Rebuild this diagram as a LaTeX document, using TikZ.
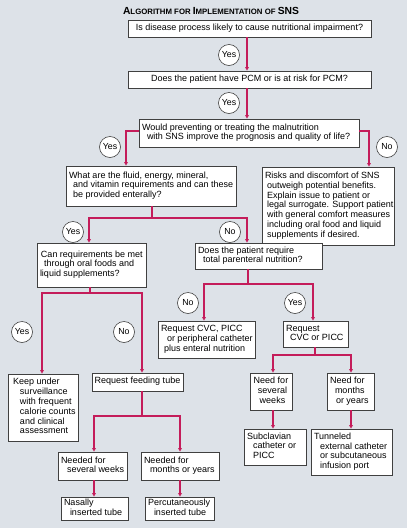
\documentclass[tikz,border=0pt]{standalone}
\usepackage{fontspec}
\setmainfont{Liberation Sans}
\usetikzlibrary{arrows.meta,shadows}
\definecolor{bg}{HTML}{DDE2E8}
\definecolor{crim}{HTML}{C41C5A}
\definecolor{edge}{HTML}{404040}
% \mkbox[options]{l or c}{name}{x1}{y1}{x2}{y2}{lines}
\newcommand\mkbox[8][]{%
 \pgfmathsetmacro\bxw{#6-#4}\pgfmathsetmacro\bxh{#7-#5}%
 \pgfmathsetmacro\bxtw{#6-#4-6}%
 \pgfmathsetmacro\bxcx{(#4+#6)/2}\pgfmathsetmacro\bxcy{(#5+#7)/2}%
 \node[box, minimum width=\bxw pt, minimum height=\bxh pt, #1] (#3) at (\bxcx,\bxcy)
   {\makebox[\bxtw pt][#2]{\begin{tabular}{@{}#2@{}}#8\end{tabular}}};}
\begin{document}
\begin{tikzpicture}[x=1pt,y=-1pt,
  box/.style={draw=edge, fill=white, line width=0.7pt, inner xsep=3pt, inner ysep=0pt,
    font=\fontsize{9}{9.8}\selectfont,
    drop shadow={shadow xshift=1.2pt, shadow yshift=-1.2pt, fill=black!30}},
  circ/.style={circle, draw=edge, fill=white, line width=0.6pt, inner sep=0pt,
    minimum size=21pt, font=\fontsize{8.8}{9}\selectfont},
  ln/.style={draw=crim, line width=1.1pt},
  arr/.style={ln, -{Triangle[length=3.6pt,width=3.6pt]}}]
\fill[bg] (0,0) rectangle (407,528);
\useasboundingbox (0,0) rectangle (407,528);

\node[font=\bfseries] (title) at (211,10.5) {\fontsize{10.3}{11}\selectfont A\fontsize{7.8}{9}\selectfont LGORITHM FOR \fontsize{10.3}{11}\selectfont I\fontsize{7.8}{9}\selectfont MPLEMENTATION OF \fontsize{10.3}{11}\selectfont SNS};

\mkbox{c}{b1}{128}{20}{371}{37}{Is disease process likely to cause nutritional impairment?}
\mkbox{c}{b2}{128}{71}{371}{88}{Does the patient have PCM or is at risk for PCM?}
\mkbox{l}{b3}{139}{119}{359}{147}{Would preventing or treating the malnutrition\\\hspace*{5pt}with SNS improve the prognosis and quality of life?}
\mkbox{l}{b4}{66}{166}{236}{206}{What are the fluid, energy, mineral,\\\hspace*{4pt}and vitamin requirements and can these\\\hspace*{4pt}be provided enterally?}
\mkbox{l}{b5}{262}{167}{394}{245}{Risks and discomfort of SNS\\\hspace*{2pt}outweigh potential benefits.\\\hspace*{2pt}Explain issue to patient or\\\hspace*{2pt}legal surrogate. Support patient\\\hspace*{2pt}with general comfort measures\\\hspace*{2pt}including oral food and liquid\\\hspace*{2pt}supplements if desired.}
\mkbox{l}{b6}{37}{243}{146}{287}{\hspace*{1pt}Can requirements be met\\\hspace*{4pt}through oral foods and\\liquid supplements?}
\mkbox{l}{b7}{195}{243}{322}{269}{Does the patient require\\\hspace*{5pt}total parenteral nutrition?}
\mkbox{l}{b8}{158}{321}{255}{358}{Request CVC, PICC\\\hspace*{6pt}or peripheral catheter\\\hspace*{3pt}plus enteral nutrition}
\mkbox{l}{b9}{283}{321}{348}{347}{Request\\\hspace*{4pt}CVC or PICC}
\mkbox{l}{b10}{8}{374}{78}{441}{\hspace*{2pt}Keep under\\\hspace*{9pt}surveillance\\\hspace*{9pt}with frequent\\\hspace*{9pt}calorie counts\\\hspace*{9pt}and clinical\\\hspace*{9pt}assessment}
\mkbox{c}{b11}{92}{373}{183}{391}{Request feeding tube}
\mkbox{c}{b12}{250}{373}{292}{410}{Need for\\\hspace*{3pt}several\\\hspace*{3pt}weeks}
\mkbox{l}{b13}{327}{373}{374}{410}{Need for\\\hspace*{5pt}months\\\hspace*{6pt}or years}
\mkbox{l}{b14}{244}{429}{306}{465}{Subclavian\\\hspace*{6pt}catheter or\\\hspace*{6pt}PICC}
\mkbox{l}{b15}{311}{429}{392}{475}{Tunneled\\\hspace*{6pt}external catheter\\\hspace*{6pt}or subcutaneous\\\hspace*{6pt}infusion port}
\mkbox{l}{b16}{58}{452}{127}{480}{Needed for\\\hspace*{6pt}several weeks}
\mkbox{l}{b17}{141}{452}{219}{480}{Needed for\\\hspace*{6pt}months or years}
\mkbox{l}{b18}{61}{497}{128}{520}{Nasally\\\hspace*{6pt}inserted tube}
\mkbox{l}{b19}{145}{497}{214}{520}{Percutaneously\\\hspace*{6pt}inserted tube}

% junctions
\coordinate (c1) at (247,0);
\coordinate (k3l) at (126,131);
\coordinate (k3r) at (369,131);
\coordinate (k4) at (152,218);
\coordinate (k4l) at (89,218);
\coordinate (k4r) at (247,218);
\coordinate (k6) at (90,293);
\coordinate (k6l) at (42,293);
\coordinate (k6r) at (142,293);
\coordinate (k7) at (248,284);
\coordinate (k7l) at (204,284);
\coordinate (k7r) at (313,284);
\coordinate (k9) at (315,355);
\coordinate (k9l) at (273,355);
\coordinate (k9r) at (351,355);
\coordinate (k11) at (142,416);
\coordinate (k11l) at (94,416);
\coordinate (k11r) at (180,416);

\draw[arr] (b1.south -| c1) -- (b2.north -| c1);
\draw[arr] (b2.south -| c1) -- (b3.north -| c1);
\draw[arr] (b3.west |- k3l) -| (b4.north -| k3l);
\draw[arr] (b3.east |- k3r) -| (b5.north -| k3r);
\draw[arr] (b4.south -| k4) -- (k4) -| (b6.north -| k4l);
\draw[arr] (k4) -| (b7.north -| k4r);
\draw[arr] (b6.south -| k6) -- (k6) -| (b10.north -| k6l);
\draw[arr] (k6) -| (b11.north -| k6r);
\draw[arr] (b7.south -| k7) -- (k7) -| (b8.north -| k7l);
\draw[arr] (k7) -| (b9.north -| k7r);
\draw[arr] (b9.south -| k9) -- (k9) -| (b12.north -| k9l);
\draw[arr] (k9) -| (b13.north -| k9r);
\draw[arr] (b12.south -| k9l) -- (b14.north -| k9l);
\draw[arr] (b13.south -| k9r) -- (b15.north -| k9r);
\draw[arr] (b11.south -| k11) -- (k11) -| (b16.north -| k11l);
\draw[arr] (k11) -| (b17.north -| k11r);
\draw[arr] (b16.south -| k11l) -- (b18.north -| k11l);
\draw[arr] (b17.south -| k11r) -- (b19.north -| k11r);

\node[circ] (y1) at (229,55) {Yes};
\node[circ] (y2) at (229,103) {Yes};
\node[circ] (y3) at (110,147) {Yes};
\node[circ] (n3) at (387,147) {No};
\node[circ] (y4) at (73,232) {Yes};
\node[circ] (n4) at (230,232) {No};
\node[circ] (n5) at (188,303) {No};
\node[circ] (y5) at (295,303) {Yes};
\node[circ] (y6) at (22,332) {Yes};
\node[circ] (n6) at (124,332) {No};
\end{tikzpicture}
\end{document}
